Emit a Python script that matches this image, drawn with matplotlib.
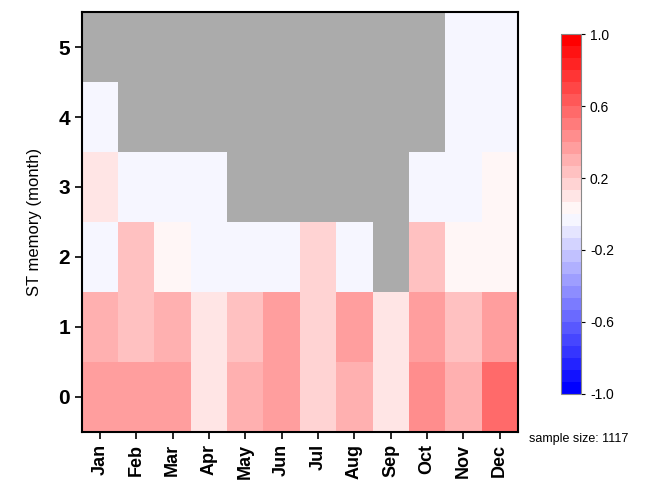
import numpy as np
import matplotlib
matplotlib.use("Agg")
import matplotlib.pyplot as plt

plt.rcParams['font.family'] = ['Liberation Sans', 'DejaVu Sans']

months = ['Jan', 'Feb', 'Mar', 'Apr', 'May', 'Jun',
          'Jul', 'Aug', 'Sep', 'Oct', 'Nov', 'Dec']
lags = [0, 1, 2, 3, 4, 5]
nan = np.nan

# correlation per lag (rows) and month (columns); nan = not significant
corr_lag0 = [0.37, 0.37, 0.37, 0.10, 0.30, 0.37, 0.17, 0.30, 0.10, 0.45, 0.30, 0.57]
corr_lag1 = [0.30, 0.23, 0.30, 0.10, 0.23, 0.37, 0.17, 0.37, 0.10, 0.37, 0.23, 0.37]
corr_lag2 = [-0.03, 0.23, 0.03, -0.03, -0.03, -0.03, 0.17, -0.03, nan, 0.23, 0.03, 0.03]
corr_lag3 = [0.10, -0.03, -0.03, -0.03, nan, nan, nan, nan, nan, -0.03, -0.03, 0.03]
corr_lag4 = [-0.03, nan, nan, nan, nan, nan, nan, nan, nan, nan, -0.03, -0.03]
corr_lag5 = [nan, nan, nan, nan, nan, nan, nan, nan, nan, nan, -0.03, -0.03]
sample_size = 1117

grid = np.ma.masked_invalid(np.array([corr_lag0, corr_lag1, corr_lag2,
                                      corr_lag3, corr_lag4, corr_lag5]))

cmap = plt.get_cmap('bwr', 30).copy()
cmap.set_bad('#ababab')

fig = plt.figure(figsize=(6.49, 4.82), dpi=100)
ax = fig.add_axes([0.126, 0.104, 0.672, 0.871])
x_edges = np.arange(len(months) + 1) - 0.5
y_edges = np.arange(len(lags) + 1) - 0.5
mesh = ax.pcolormesh(x_edges, y_edges, grid, cmap=cmap, vmin=-1, vmax=1)

ax.set_xticks(range(len(months)))
ax.set_xticklabels(months, rotation=90, fontsize=13, fontweight='bold')
ax.set_yticks(lags)
ax.set_yticklabels([str(v) for v in lags], fontsize=15, fontweight='bold')
ax.set_ylabel('ST memory (month)', fontsize=12, labelpad=12)
ax.tick_params(length=5, width=1.2)
for sp in ax.spines.values():
    sp.set_linewidth(1.5)

cax = fig.add_axes([0.864, 0.183, 0.031, 0.746])
cb = fig.colorbar(mesh, cax=cax, ticks=[1.0, 0.6, 0.2, -0.2, -0.6, -1.0], format='%.1f')
cb.ax.tick_params(labelsize=10, length=3, width=0.8)
cb.outline.set_edgecolor('#888888')
cb.outline.set_linewidth(0.8)

fig.text(0.815, 0.082, 'sample size: %d' % sample_size, fontsize=9)

fig.savefig('out.png', dpi=100)
